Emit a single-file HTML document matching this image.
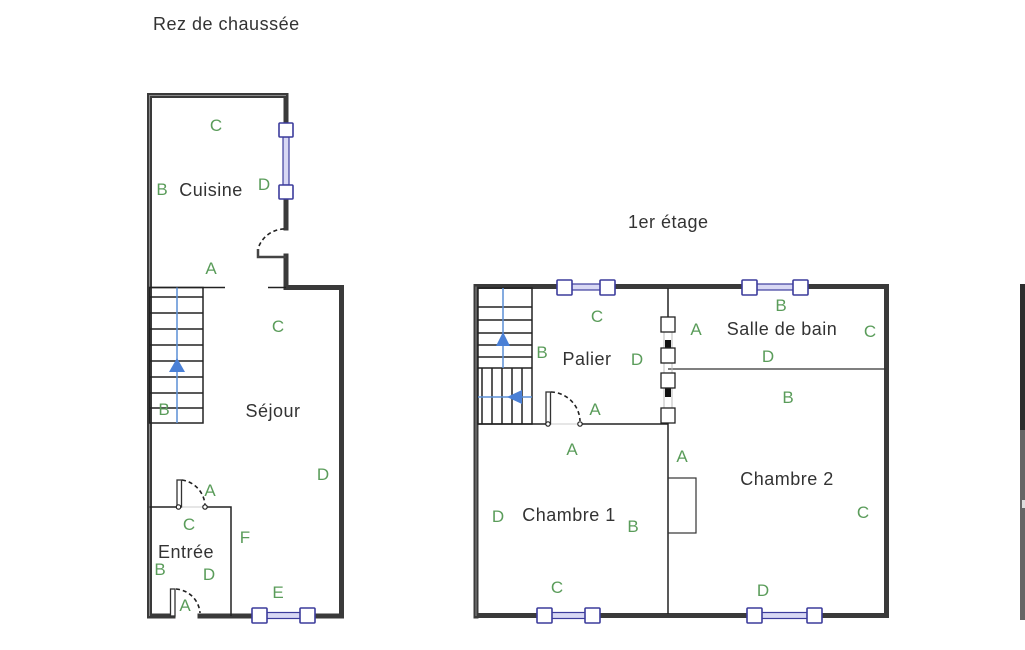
<!DOCTYPE html>
<html>
<head>
<meta charset="utf-8">
<style>
  html,body{margin:0;padding:0;background:#fff;}
  svg{display:block;}
  .t{font-family:"Liberation Sans",sans-serif;font-size:18px;fill:#333;letter-spacing:0.5px;}
  .g{font-family:"Liberation Sans",sans-serif;font-size:17px;fill:#5a9c5a;text-anchor:middle;}
  .r{font-family:"Liberation Sans",sans-serif;font-size:18px;fill:#333;text-anchor:middle;letter-spacing:0.5px;}
  .w{stroke:#3a3a3a;stroke-width:5;fill:none;stroke-linecap:square;}
  .wi{stroke:#8a8a8a;stroke-width:1;fill:none;}
  .l{stroke:#222;stroke-width:1.5;fill:none;}
  .lt{stroke:#333;stroke-width:1.2;fill:none;}
  .sq{fill:#fff;stroke:#3c3c9c;stroke-width:1.6;}
  .wb{fill:#d8d8f4;stroke:#3c3c9c;stroke-width:1.2;}
  .bl{stroke:#5b8fd6;stroke-width:1.5;fill:none;}
  .ar{fill:#4a80d6;}
  .dash{stroke:#222;stroke-width:1.6;fill:none;stroke-dasharray:4 3;}
  .hg{fill:#fff;stroke:#222;stroke-width:1.2;}
</style>
</head>
<body>
<svg width="1025" height="650" viewBox="0 0 1025 650" xmlns="http://www.w3.org/2000/svg">
  <rect width="1025" height="650" fill="#fff"/>

  <!-- Titles -->
  <text class="t" x="153" y="30">Rez de chaussée</text>
  <text class="t" x="628" y="228">1er étage</text>

  <!-- ================= PLAN 1 ================= -->
  <!-- outer walls -->
  <path class="w" d="M149.5,616 V95.5 H286 V123"/>
  <path class="w" d="M286,198 V228"/>
  <path class="w" d="M286,256 V287.5 H341.5 V616 H315"/>
  <path class="w" d="M252,616 H200"/>
  <path class="w" d="M173,616 H149.5"/>
  <path class="wi" d="M149.5,616 V95.5 H286"/>

  <!-- cuisine window (vertical) -->
  <rect class="wb" x="283" y="137" width="6" height="48"/>
  <rect class="sq" x="279" y="123" width="14" height="14" rx="1"/>
  <rect class="sq" x="279" y="185" width="14" height="14" rx="1"/>

  <!-- cuisine door -->
  <path d="M258,249 V257 H286" stroke="#444" stroke-width="2.5" fill="none"/>
  <path class="dash" d="M259,246 A28,28 0 0 1 286,229"/>

  <!-- thin line cuisine / sejour -->
  <path class="l" d="M149.5,287.5 H225"/>
  <path class="l" d="M268,287.5 H286"/>

  <!-- stairs plan 1 -->
  <rect class="l" x="149.5" y="287.5" width="53.5" height="135.5"/>
  <path class="l" d="M149.5,297 H203 M149.5,313 H203 M149.5,329 H203 M149.5,345 H203 M149.5,361 H203 M149.5,377 H203 M149.5,393 H203 M149.5,408 H203"/>
  <path class="bl" d="M177,287.5 V423"/>
  <polygon class="ar" points="177,358 185,372 169,372"/>

  <!-- entree walls -->
  <path class="l" d="M149.5,507 H178"/>
  <path class="l" d="M205,507 H231 V616"/>
  <path d="M178,507 H205" stroke="#ccc" stroke-width="1"/>
  <rect x="177" y="480" width="4.5" height="27" fill="#fff" stroke="#333" stroke-width="1.3"/>
  <path class="dash" d="M182,480 A27,27 0 0 1 205,505"/>
  <circle class="hg" cx="178.5" cy="507" r="2.2"/>
  <circle class="hg" cx="205" cy="507" r="2.2"/>

  <!-- entry door bottom -->
  <rect x="170.5" y="589" width="4.5" height="27" fill="#fff" stroke="#333" stroke-width="1.3"/>
  <path class="dash" d="M176,589 A26,26 0 0 1 200,613"/>

  <!-- bottom window plan1 -->
  <rect class="wb" x="266" y="612.5" width="35" height="6"/>
  <rect class="sq" x="252" y="608" width="15" height="15" rx="1"/>
  <rect class="sq" x="300" y="608" width="15" height="15" rx="1"/>

  <!-- labels plan 1 -->
  <text class="g" x="216" y="131">C</text>
  <text class="g" x="162" y="195">B</text>
  <text class="r" x="211" y="196">Cuisine</text>
  <text class="g" x="264" y="190">D</text>
  <text class="g" x="211" y="274">A</text>
  <text class="g" x="278" y="332">C</text>
  <text class="r" x="273" y="417">Séjour</text>
  <text class="g" x="164" y="415">B</text>
  <text class="g" x="323" y="480">D</text>
  <text class="g" x="210" y="496">A</text>
  <text class="g" x="189" y="530">C</text>
  <text class="g" x="245" y="543">F</text>
  <text class="r" x="186" y="558">Entrée</text>
  <text class="g" x="160" y="575">B</text>
  <text class="g" x="209" y="580">D</text>
  <text class="g" x="278" y="598">E</text>
  <text class="g" x="185" y="611">A</text>

  <!-- ================= PLAN 2 ================= -->
  <!-- outer walls -->
  <path class="w" d="M476,616 V286.5 H557"/>
  <path class="w" d="M615,286.5 H742"/>
  <path class="w" d="M808,286.5 H886.5 V615.5 H822"/>
  <path class="w" d="M747,615.5 H600"/>
  <path class="w" d="M537,615.5 H476"/>
  <path class="wi" d="M476,616 V286.5"/>

  <!-- top windows -->
  <rect class="wb" x="571" y="284" width="30" height="6"/>
  <rect class="sq" x="557" y="280" width="15" height="15" rx="1"/>
  <rect class="sq" x="600" y="280" width="15" height="15" rx="1"/>
  <rect class="wb" x="756" y="284" width="38" height="6"/>
  <rect class="sq" x="742" y="280" width="15" height="15" rx="1"/>
  <rect class="sq" x="793" y="280" width="15" height="15" rx="1"/>

  <!-- bottom windows -->
  <rect class="wb" x="551" y="612.5" width="35" height="6"/>
  <rect class="sq" x="537" y="608" width="15" height="15" rx="1"/>
  <rect class="sq" x="585" y="608" width="15" height="15" rx="1"/>
  <rect class="wb" x="761" y="612.5" width="47" height="6"/>
  <rect class="sq" x="747" y="608" width="15" height="15" rx="1"/>
  <rect class="sq" x="807" y="608" width="15" height="15" rx="1"/>

  <!-- interior walls -->
  <path class="l" d="M668,288 V317"/>
  <path class="l" d="M668,423 V614"/>
  <path class="lt" d="M668,369 H886"/>
  <path class="l" d="M478,424 H548"/>
  <path class="l" d="M580,424 H668"/>
  <path d="M548,424 H580" stroke="#ccc" stroke-width="1"/>
  <rect class="lt" x="668" y="478" width="28" height="55"/>

  <!-- doors on vertical wall -->
  <path d="M664,332 V408 M672,332 V408" stroke="#bbb" stroke-width="1"/>
  <rect x="665" y="340" width="6" height="8" fill="#111"/>
  <rect x="665" y="388" width="6" height="9" fill="#111"/>
  <rect x="661" y="317" width="14" height="15" fill="#fff" stroke="#222" stroke-width="1.3"/>
  <rect x="661" y="348" width="14" height="15" fill="#fff" stroke="#222" stroke-width="1.3"/>
  <rect x="661" y="373" width="14" height="15" fill="#fff" stroke="#222" stroke-width="1.3"/>
  <rect x="661" y="408" width="14" height="15" fill="#fff" stroke="#222" stroke-width="1.3"/>

  <!-- stairs plan 2 -->
  <rect class="l" x="478" y="288" width="54" height="136"/>
  <path class="l" d="M478,307 H532 M478,320 H532 M478,333 H532 M478,345 H532 M478,357 H532 M478,368 H532"/>
  <path class="l" d="M482,368 V424 M492,368 V424 M502,368 V424 M512,368 V424 M522,368 V424"/>
  <path class="bl" d="M503,288 V368"/>
  <polygon class="ar" points="503,332 510,346 496,346"/>
  <path class="bl" d="M478,397 H532"/>
  <polygon class="ar" points="507,397 522,390 522,404"/>

  <!-- palier door -->
  <rect x="546" y="392" width="4.5" height="32" fill="#fff" stroke="#333" stroke-width="1.3"/>
  <path class="dash" d="M551,392 A30,30 0 0 1 580,421"/>
  <circle class="hg" cx="548" cy="424" r="2.2"/>
  <circle class="hg" cx="580" cy="424" r="2.2"/>

  <!-- labels plan 2 -->
  <text class="g" x="597" y="322">C</text>
  <text class="g" x="542" y="358">B</text>
  <text class="r" x="587" y="365">Palier</text>
  <text class="g" x="637" y="365">D</text>
  <text class="g" x="595" y="415">A</text>
  <text class="g" x="572" y="455">A</text>
  <text class="g" x="498" y="522">D</text>
  <text class="r" x="569" y="521">Chambre 1</text>
  <text class="g" x="633" y="532">B</text>
  <text class="g" x="557" y="593">C</text>
  <text class="g" x="781" y="311">B</text>
  <text class="g" x="696" y="335">A</text>
  <text class="r" x="782" y="335">Salle de bain</text>
  <text class="g" x="870" y="337">C</text>
  <text class="g" x="768" y="362">D</text>
  <text class="g" x="788" y="403">B</text>
  <text class="g" x="682" y="462">A</text>
  <text class="r" x="787" y="485">Chambre 2</text>
  <text class="g" x="863" y="518">C</text>
  <text class="g" x="763" y="596">D</text>

  <!-- right edge partial plan -->
  <rect x="1020" y="284" width="5" height="146" fill="#2e2e2e"/>
  <rect x="1020" y="430" width="5" height="190" fill="#666"/>
  <rect x="1022" y="500" width="3" height="8" fill="#ddd"/>
</svg>
</body>
</html>
